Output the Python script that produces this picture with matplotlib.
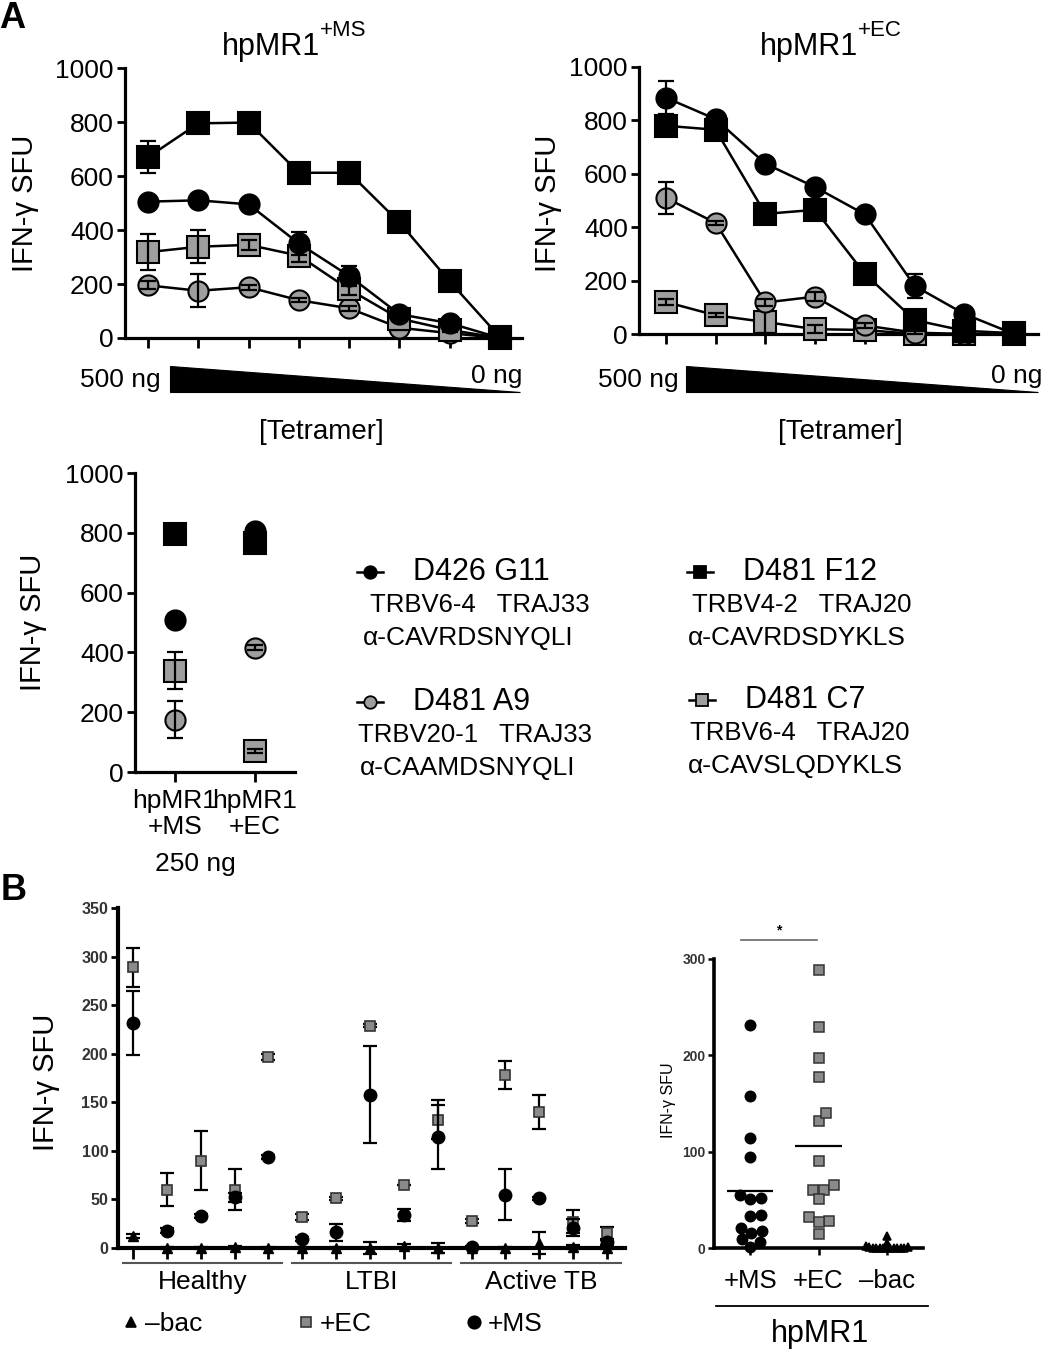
import numpy as np
import matplotlib
matplotlib.use('Agg')
import matplotlib.pyplot as plt
from matplotlib.lines import Line2D
from matplotlib.patches import Polygon

plt.rcParams['font.family'] = ['Liberation Sans', 'DejaVu Sans']

# ---------------- DATA ----------------
dose_idx = np.arange(8)          # 500 ng ... 0 ng (serial dilution)
# hpMR1 +MS
ms_G11 = [505, 510, 495, 350, 230, 88, 55, 0]
ms_G11_err = [15, 20, 15, 42, 38, 10, 8, 0]
ms_F12 = [670, 795, 798, 612, 612, 428, 210, 3]
ms_F12_err = [60, 8, 8, 6, 6, 6, 6, 0]
ms_A9 = [195, 175, 188, 140, 110, 38, 18, 0]
ms_A9_err = [15, 62, 10, 8, 10, 8, 8, 0]
ms_C7 = [318, 338, 345, 305, 180, 72, 30, 0]
ms_C7_err = [68, 62, 18, 22, 20, 10, 8, 0]
# hpMR1 +EC
ec_G11 = [885, 805, 638, 550, 448, 180, 75, 0]
ec_G11_err = [62, 10, 12, 10, 12, 45, 8, 0]
ec_F12 = [780, 765, 450, 465, 225, 52, 12, 3]
ec_F12_err = [10, 10, 8, 10, 8, 8, 5, 0]
ec_A9 = [510, 416, 118, 140, 32, 5, 0, 0]
ec_A9_err = [60, 8, 12, 18, 10, 5, 3, 0]
ec_C7 = [120, 70, 45, 18, 15, 0, 0, 0]
ec_C7_err = [10, 8, 40, 15, 12, 3, 3, 0]
single_dose_index = 1            # 250 ng
single_cats = ['hpMR1\n+MS', 'hpMR1\n+EC']

# Panel B donors
groups = ['Healthy', 'LTBI', 'Active TB']
group_sizes = [5, 5, 5]
ec_vals = [289, 60, 90, 60, 197, 32, 51, 229, 65, 132, 28, 178, 140, 27, 15]
ec_err = [20, 17, 30, 21, 3, 3, 2, 2, 0, 20, 2, 14, 17, 12, 7]
ms_vals = [232, 18, 33, 52, 94, 9, 16, 158, 34, 114, 1, 55, 51, 21, 6]
ms_err = [33, 3, 2, 5, 2, 2, 9, 50, 6, 33, 1, 26, 2, 9, 3]
bac_vals = [12, 0, 0, 1, 0, 0, 0, 0, 2, 0, 0, 0, 5, 1, 0]
bac_err = [2, 1, 1, 1, 1, 1, 1, 6, 2, 5, 1, 1, 11, 2, 1]
summary_cats = ['+MS', '+EC', '–bac']

GRAY = '#9e9e9e'

# ---------------- FIGURE ----------------
W, H = 1050, 1355
fig = plt.figure(figsize=(W / 100, H / 100), dpi=100)


def px_axes(l, t, r, b):
    return fig.add_axes([l / W, 1 - b / H, (r - l) / W, (b - t) / H])


def ftext(x, y, s, **kw):
    return fig.text(x / W, 1 - y / H, s, **kw)


def fxy(x, y):
    return x / W, 1 - y / H


def style(ax, lw=2.3, ylen=6, xlen=7, tw=2.0, labsize=19):
    for s in ['top', 'right']:
        ax.spines[s].set_visible(False)
    for s in ['left', 'bottom']:
        ax.spines[s].set_linewidth(lw)
    ax.tick_params(axis='y', direction='out', length=ylen, width=tw, labelsize=labsize, pad=2)
    ax.tick_params(axis='x', direction='out', length=xlen, width=tw, labelsize=labsize)


def dose_panel(ax, series):
    for z, (vals, errs, marker, fc, ms) in enumerate(series):
        ax.plot(dose_idx, vals, color='k', lw=1.8, marker=marker, ms=ms, mfc=fc,
                mec='k', mew=1.5, zorder=3 + 2 * z, clip_on=False)
        ax.errorbar(dose_idx, vals, yerr=errs, fmt='none', ecolor='k', elinewidth=1.6,
                    capsize=6, capthick=1.6, zorder=4 + 2 * z, clip_on=False)
    ax.set_ylim(0, 1000)
    ax.set_yticks(np.arange(0, 1001, 200))
    ax.set_xticks(dose_idx)
    ax.set_xticklabels([])
    style(ax)


# Panel A1
ax1 = px_axes(125, 68, 522, 338)
dose_panel(ax1, [(ms_A9, ms_A9_err, 'o', GRAY, 14.5),
                 (ms_C7, ms_C7_err, 's', GRAY, 15.5),
                 (ms_G11, ms_G11_err, 'o', 'k', 14.5),
                 (ms_F12, ms_F12_err, 's', 'k', 15.5)])
ax1.set_xlim(-0.46, 7.44)

# Panel A2
ax2 = px_axes(639, 67, 1038, 334)
dose_panel(ax2, [(ec_C7, ec_C7_err, 's', GRAY, 15.5),
                 (ec_A9, ec_A9_err, 'o', GRAY, 14.5),
                 (ec_F12, ec_F12_err, 's', 'k', 15.5),
                 (ec_G11, ec_G11_err, 'o', 'k', 14.5)])
ax2.set_xlim(-0.54, 7.48)

# titles, y labels, wedges
for (tx, sup, ylx, wl, wr, left500, right0, tetx) in [
        (320, '+MS', 25, 170, 520, 80, 522, 321),
        (858, '+EC', 548, 686, 1038, 598, 1042, 840)]:
    ftext(tx, 47, 'hpMR1', fontsize=22, ha='right', va='center')
    ftext(tx, 30, sup, fontsize=16, ha='left', va='center')
    ftext(ylx, 203, 'IFN-γ SFU', fontsize=21, rotation=90, ha='center', va='center')
    fig.patches.append(Polygon([fxy(wl, 366), fxy(wl, 392), fxy(wr, 392)], closed=True,
                               transform=fig.transFigure, facecolor='k', edgecolor='k', lw=0.8))
    ftext(left500, 380, '500 ng', fontsize=19, ha='left', va='center')
    ftext(right0, 376, '0 ng', fontsize=19, ha='right', va='center')
    ftext(tetx, 432, '[Tetramer]', fontsize=20, ha='center', va='center')

ftext(12, 18, 'A', fontsize=26, fontweight='bold', ha='center', va='center')
ftext(14, 890, 'B', fontsize=26, fontweight='bold', ha='center', va='center')

# Panel A3 (250 ng)
ax3 = px_axes(135, 473, 295, 772)
i = single_dose_index
sx = np.arange(2)
for z, (a, ae, b, be, marker, fc, ms) in enumerate([
        (ms_A9, ms_A9_err, ec_A9, ec_A9_err, 'o', GRAY, 14.5),
        (ms_C7, ms_C7_err, ec_C7, ec_C7_err, 's', GRAY, 15.5),
        (ms_F12, ms_F12_err, ec_F12, ec_F12_err, 's', 'k', 15.5),
        (ms_G11, ms_G11_err, ec_G11, ec_G11_err, 'o', 'k', 14.5)]):
    vals = [a[i], b[i]]
    errs = [ae[i], be[i]]
    ax3.plot(sx, vals, ls='none', marker=marker, ms=ms, mfc=fc, mec='k', mew=1.5,
             zorder=3 + 2 * z, clip_on=False)
    ax3.errorbar(sx, vals, yerr=errs, fmt='none', ecolor='k', elinewidth=1.6,
                 capsize=6, capthick=1.6, zorder=4 + 2 * z, clip_on=False)
ax3.set_xlim(-0.5, 1.5)
ax3.set_ylim(0, 1000)
ax3.set_yticks(np.arange(0, 1001, 200))
ax3.set_xticks(sx)
ax3.set_xticklabels(single_cats, linespacing=1.1)
style(ax3)
ax3.tick_params(axis='x', pad=5)
ftext(33, 622, 'IFN-γ SFU', fontsize=21, rotation=90, ha='center', va='center')
ftext(195, 864, '250 ng', fontsize=19, ha='center', va='center')

# Legend for clones
legend_items = [
    (370, 572, 'o', 'k', 'D426 G11', 'TRBV6-4   TRAJ33', 'α-CAVRDSNYQLI', 370, 363),
    (700, 572, 's', 'k', 'D481 F12', 'TRBV4-2   TRAJ20', 'α-CAVRDSDYKLS', 692, 688),
    (370, 702, 'o', GRAY, 'D481 A9', 'TRBV20-1   TRAJ33', 'α-CAAMDSNYQLI', 358, 360),
    (702, 700, 's', GRAY, 'D481 C7', 'TRBV6-4   TRAJ20', 'α-CAVSLQDYKLS', 690, 688),
]
for (mx, my, mk, fc, title, l2, l3, x2, x3) in legend_items:
    fig.add_artist(Line2D([(mx - 13) / W, (mx + 13) / W], [1 - my / H] * 2,
                          transform=fig.transFigure, color='k', lw=1.8))
    fig.add_artist(Line2D([mx / W], [1 - my / H], transform=fig.transFigure, ls='none',
                          marker=mk, ms=9, mfc=fc, mec='k', mew=1.3))
    ftext(mx + 43, my, title, fontsize=22, ha='left', va='center')
    ftext(x2, my + 33, l2, fontsize=18.5, ha='left', va='center')
    ftext(x3, my + 66, l3, fontsize=19, ha='left', va='center')

# Panel B1: donors
ax4 = px_axes(118, 908, 625, 1248)
donor_x = np.arange(sum(group_sizes))
ax4.errorbar(donor_x, ec_vals, yerr=ec_err, fmt='none', ecolor='k', elinewidth=1.6,
             capsize=5, capthick=1.6, zorder=3, clip_on=False)
ax4.plot(donor_x, ec_vals, ls='none', marker='s', ms=7.5, mfc='#8a8a8a', mec='#333333',
         mew=1.2, zorder=4, clip_on=False)
ax4.errorbar(donor_x, ms_vals, yerr=ms_err, fmt='none', ecolor='k', elinewidth=1.6,
             capsize=5, capthick=1.6, zorder=5, clip_on=False)
ax4.plot(donor_x, ms_vals, ls='none', marker='o', ms=9, mfc='k', mec='k', zorder=6, clip_on=False)
ax4.errorbar(donor_x, bac_vals, yerr=bac_err, fmt='none', ecolor='k', elinewidth=1.6,
             capsize=5, capthick=1.6, zorder=7, clip_on=False)
ax4.plot(donor_x, bac_vals, ls='none', marker='^', ms=6.5, mfc='k', mec='k', zorder=8, clip_on=False)
ax4.set_xlim(-0.44, 14.53)
ax4.set_ylim(0, 350)
ax4.set_yticks(np.arange(0, 351, 50))
ax4.set_xticks(donor_x)
ax4.set_xticklabels([])
style(ax4, lw=3, ylen=5, xlen=8, tw=2, labsize=11.5)
for lab in ax4.get_yticklabels():
    lab.set_fontweight('bold')
    lab.set_color('#333333')
start = 0
for g, n in zip(groups, group_sizes):
    x0, x1 = start - 0.3, start + n - 1 + 0.4
    ax4.plot([x0, x1], [-0.045, -0.045], transform=ax4.get_xaxis_transform(), color='#555555',
             lw=1.5, clip_on=False)
    ax4.text((x0 + x1) / 2, -0.1, g, transform=ax4.get_xaxis_transform(), fontsize=19,
             ha='center', va='center')
    start += n
ftext(46, 1082, 'IFN-γ SFU', fontsize=21, rotation=90, ha='center', va='center')

# legend row for B1
for (mx, mk, fc, mec, ms, lab) in [(131, '^', 'k', 'k', 7, '–bac'),
                                   (306, 's', '#8a8a8a', '#333333', 7.5, '+EC'),
                                   (474, 'o', 'k', 'k', 9, '+MS')]:
    fig.add_artist(Line2D([mx / W], [1 - 1322 / H], transform=fig.transFigure, ls='none',
                          marker=mk, ms=ms, mfc=fc, mec=mec, mew=1.2))
    ftext(mx + 14, 1324, lab, fontsize=19, ha='left', va='center')

# Panel B2: summary
ax5 = px_axes(714, 959, 923, 1248)
ax5.set_xlim(-0.53, 2.53)
ax5.set_ylim(0, 300)
x_px_per_unit = 68.5
y_px_per_unit = 289 / 300


def swarm_offsets(vals, d_px):
    vals = np.asarray(vals, float)
    order = np.argsort(vals, kind='stable')
    placed = []
    xs = np.zeros(len(vals))
    for k in order:
        y = vals[k] * y_px_per_unit
        cands = [0.0]
        for (px, py) in placed:
            dy = abs(py - y)
            if dy < d_px:
                dx = np.sqrt(d_px ** 2 - dy ** 2)
                cands += [px + dx, px - dx]
        cands = sorted(cands, key=abs)
        chosen = cands[-1]
        for c in cands:
            if all((c - px) ** 2 + (y - py) ** 2 >= d_px ** 2 - 1e-6 for px, py in placed):
                chosen = c
                break
        placed.append((chosen, y))
        xs[k] = chosen / x_px_per_unit
    return xs


for ci, (vals, mk, fc, mec, ms, d) in enumerate([
        (ms_vals, 'o', 'k', 'k', 7.5, 11.0),
        (ec_vals, 's', '#8a8a8a', '#333333', 6.8, 10.5),
        (bac_vals, '^', 'k', 'k', 6.0, 3.5)]):
    offs = swarm_offsets(vals, d)
    ax5.plot(ci + offs, vals, ls='none', marker=mk, ms=ms, mfc=fc, mec=mec, mew=1.1,
             zorder=3, clip_on=False)
    ax5.hlines(np.mean(vals), ci - 0.34, ci + 0.34, color='k', lw=1.6, zorder=4)
ax5.set_yticks([0, 100, 200, 300])
ax5.set_xticks([0, 1, 2])
ax5.set_xticklabels(summary_cats)
style(ax5, lw=2.6, ylen=4, xlen=5, tw=1.8, labsize=10)
ax5.tick_params(axis='x', labelsize=18.5, pad=10)
for lab in ax5.get_yticklabels():
    lab.set_fontweight('bold')
    lab.set_color('#333333')
# significance bar
ax5.plot([-0.13, 0.98], [320, 320], color='#666666', lw=1.2, clip_on=False)
ax5.text(0.42, 322, '*', fontsize=10, ha='center', va='bottom', fontweight='bold')
ftext(668, 1100, 'IFN-γ SFU', fontsize=11.5, rotation=90, ha='center', va='center')
fig.add_artist(Line2D([716 / W, 928 / W], [1 - 1306 / H] * 2, transform=fig.transFigure,
                      color='k', lw=1.3))
ftext(820, 1334, 'hpMR1', fontsize=22, ha='center', va='center')

fig.savefig('out.png', dpi=100)
